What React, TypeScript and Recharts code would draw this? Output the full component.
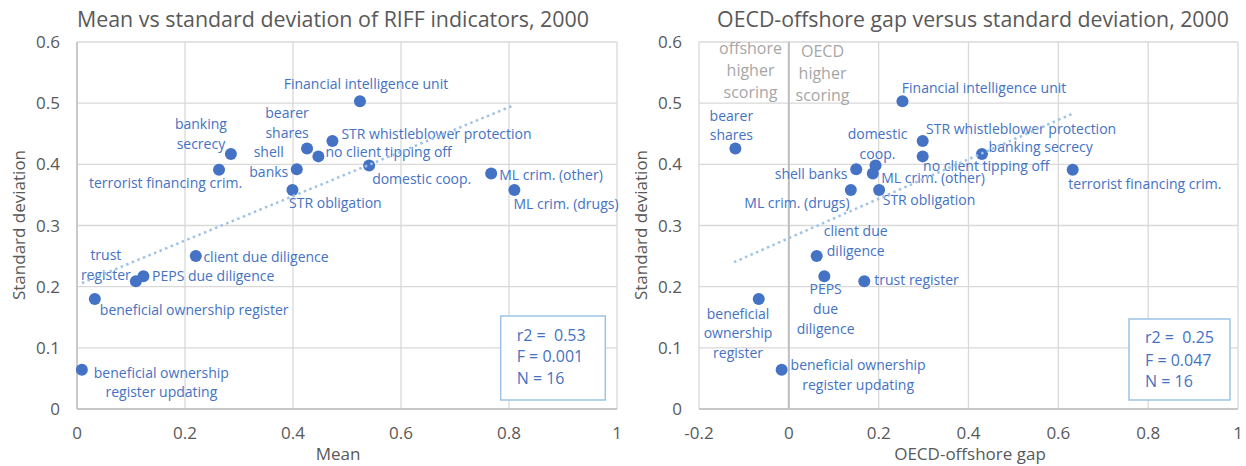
import React from 'react';
import { ScatterChart, Scatter, XAxis, YAxis, CartesianGrid, ReferenceLine } from 'recharts';

// RIFF indicators, 2000
const indicators = [
  'Financial intelligence unit',
  'STR whistleblower protection',
  'bearer shares',
  'banking secrecy',
  'no client tipping off',
  'domestic coop.',
  'shell banks',
  'terrorist financing crim.',
  'ML crim. (other)',
  'STR obligation',
  'ML crim. (drugs)',
  'client due diligence',
  'PEPS due diligence',
  'trust register',
  'beneficial ownership register',
  'beneficial ownership register updating',
];
const meanScore = [0.524, 0.473, 0.426, 0.285, 0.447, 0.541, 0.407, 0.263, 0.767, 0.399, 0.81, 0.22, 0.123, 0.109, 0.033, 0.009];
const offshoreGap = [0.253, 0.298, -0.119, 0.43, 0.298, 0.193, 0.15, 0.632, 0.187, 0.201, 0.138, 0.062, 0.079, 0.168, -0.067, -0.016];
const stdDev = [0.503, 0.438, 0.426, 0.417, 0.413, 0.398, 0.392, 0.391, 0.385, 0.358, 0.358, 0.25, 0.217, 0.209, 0.18, 0.064];

// linear trendline ends
const meanTrendX = [0.009, 0.81];
const meanTrendY = [0.206, 0.497];
const gapTrendX = [-0.122, 0.632];
const gapTrendY = [0.24, 0.483];

const meanTicks = [0, 0.2, 0.4, 0.6, 0.8, 1];
const gapTicks = [-0.2, 0, 0.2, 0.4, 0.6, 0.8, 1];
const sdTicks = [0, 0.1, 0.2, 0.3, 0.4, 0.5, 0.6];

const meanPoints = indicators.map((name, i) => ({ name, x: meanScore[i], y: stdDev[i] }));
const gapPoints = indicators.map((name, i) => ({ name, x: offshoreGap[i], y: stdDev[i] }));
const meanTrend = meanTrendX.map((x, i) => ({ x, y: meanTrendY[i] }));
const gapTrend = gapTrendX.map((x, i) => ({ x, y: gapTrendY[i] }));

const BLUE = '#4472C4';
const TREND = '#9DC3E6';
const GRID = '#D9D9D9';
const AXIS = '#BFBFBF';
const TEXT = '#595959';
const FONT = '"Open Sans", sans-serif';
const LINE_GAP = 19.7;

type Spot = { lines: string[]; dx: number; dy: number; anchor: 'start' | 'middle' | 'end' };

// where each data label sits relative to its dot
const meanLabels: Record<string, Spot> = {
  'Financial intelligence unit': { lines: ['Financial intelligence unit'], dx: 6, dy: -18, anchor: 'middle' },
  'STR whistleblower protection': { lines: ['STR whistleblower protection'], dx: 9, dy: -8, anchor: 'start' },
  'bearer shares': { lines: ['bearer', 'shares'], dx: -20, dy: -36, anchor: 'middle' },
  'banking secrecy': { lines: ['banking', 'secrecy'], dx: -30, dy: -31, anchor: 'middle' },
  'no client tipping off': { lines: ['no client tipping off'], dx: 7, dy: -5.6, anchor: 'start' },
  'domestic coop.': { lines: ['domestic coop.'], dx: 3, dy: 12, anchor: 'start' },
  'shell banks': { lines: ['shell', 'banks'], dx: -28, dy: -18, anchor: 'middle' },
  'terrorist financing crim.': { lines: ['terrorist financing crim.'], dx: -53.5, dy: 12.4, anchor: 'middle' },
  'ML crim. (other)': { lines: ['ML crim. (other)'], dx: 8, dy: 0, anchor: 'start' },
  'STR obligation': { lines: ['STR obligation'], dx: -3.4, dy: 12, anchor: 'start' },
  'ML crim. (drugs)': { lines: ['ML crim. (drugs)'], dx: -1, dy: 13.3, anchor: 'start' },
  'client due diligence': { lines: ['client due diligence'], dx: 7.6, dy: 0, anchor: 'start' },
  'PEPS due diligence': { lines: ['PEPS due diligence'], dx: 8.6, dy: -1, anchor: 'start' },
  'trust register': { lines: ['trust', 'register'], dx: -30, dy: -27, anchor: 'middle' },
  'beneficial ownership register': { lines: ['beneficial ownership register'], dx: 5, dy: 9.6, anchor: 'start' },
  'beneficial ownership register updating': { lines: ['beneficial ownership', 'register updating'], dx: 79.5, dy: 1.7, anchor: 'middle' },
};

const gapLabels: Record<string, Spot> = {
  'Financial intelligence unit': { lines: ['Financial intelligence unit'], dx: -0.6, dy: -14.7, anchor: 'start' },
  'STR whistleblower protection': { lines: ['STR whistleblower protection'], dx: 3.4, dy: -13.3, anchor: 'start' },
  'bearer shares': { lines: ['bearer', 'shares'], dx: -4, dy: -33.7, anchor: 'middle' },
  'banking secrecy': { lines: ['banking secrecy'], dx: 6.6, dy: -8, anchor: 'start' },
  'no client tipping off': { lines: ['no client tipping off'], dx: 0.4, dy: 8.7, anchor: 'start' },
  'domestic coop.': { lines: ['domestic', 'coop.'], dx: 2, dy: -32.3, anchor: 'middle' },
  'shell banks': { lines: ['shell banks'], dx: -8.7, dy: 3.3, anchor: 'end' },
  'terrorist financing crim.': { lines: ['terrorist financing crim.'], dx: -4.4, dy: 13, anchor: 'start' },
  'ML crim. (other)': { lines: ['ML crim. (other)'], dx: 8.4, dy: 3, anchor: 'start' },
  'STR obligation': { lines: ['STR obligation'], dx: 3.6, dy: 9.3, anchor: 'start' },
  'ML crim. (drugs)': { lines: ['ML crim. (drugs)'], dx: -1.3, dy: 12, anchor: 'end' },
  'client due diligence': { lines: ['client due', 'diligence'], dx: 39, dy: -25.7, anchor: 'middle' },
  'PEPS due diligence': { lines: ['PEPS', 'due', 'diligence'], dx: 1.3, dy: 12, anchor: 'middle' },
  'trust register': { lines: ['trust register'], dx: 10, dy: -2.3, anchor: 'start' },
  'beneficial ownership register': { lines: ['beneficial', 'ownership', 'register'], dx: -20.7, dy: 13.7, anchor: 'middle' },
  'beneficial ownership register updating': { lines: ['beneficial ownership', 'register updating'], dx: 76.5, dy: -5.7, anchor: 'middle' },
};

const labelledDot = (spots: Record<string, Spot>) => (props: any) => {
  const { cx, cy, payload } = props;
  const spot = spots[payload.name];
  return (
    <g>
      <circle cx={cx} cy={cy} r={6} fill={BLUE} />
      {spot && (
        <text fill={BLUE} fontSize={14} textAnchor={spot.anchor} dominantBaseline="central">
          {spot.lines.map((line, i) => (
            <tspan key={i} x={cx + spot.dx} y={cy + spot.dy + i * LINE_GAP}>{line}</tspan>
          ))}
        </text>
      )}
    </g>
  );
};

const noDot = () => <g />;

const tickStyle = { fill: TEXT, fontSize: 17 };

function Panel(props: {
  left: number;
  width: number;
  rightMargin: number;
  points: { name: string; x: number; y: number }[];
  trend: { x: number; y: number }[];
  xTicks: number[];
  xDomain: [number, number];
  spots: Record<string, Spot>;
  zeroLine?: boolean;
}) {
  const { left, width, rightMargin, points, trend, xTicks, xDomain, spots, zeroLine } = props;
  return (
    <div style={{ position: 'absolute', left, top: 0 }}>
      <ScatterChart
        width={width}
        height={466}
        margin={{ top: 42, right: rightMargin, bottom: 27, left: 17 }}
        style={{ overflow: 'visible' }}
      >
        <CartesianGrid stroke={GRID} strokeWidth={1.3} />
        <XAxis
          type="number"
          dataKey="x"
          domain={xDomain}
          ticks={xTicks}
          interval={0}
          height={30}
          tick={tickStyle}
          tickLine={false}
          tickMargin={12}
          axisLine={{ stroke: AXIS, strokeWidth: 1.5 }}
        />
        <YAxis
          type="number"
          dataKey="y"
          domain={[0, 0.6]}
          ticks={sdTicks}
          interval={0}
          width={60}
          tick={tickStyle}
          tickLine={false}
          tickMargin={11}
          axisLine={zeroLine ? false : { stroke: AXIS, strokeWidth: 1.5 }}
        />
        {zeroLine && <ReferenceLine x={0} stroke={AXIS} strokeWidth={2} />}
        <Scatter data={points} shape={labelledDot(spots)} isAnimationActive={false} />
        <Scatter
          data={trend}
          shape={noDot}
          line={{ stroke: TREND, strokeWidth: 2.5, strokeDasharray: '2.5 3.5' }}
          isAnimationActive={false}
        />
      </ScatterChart>
    </div>
  );
}

export default function App() {
  return (
    <div style={{ position: 'absolute', left: 0, top: 0, width: 1246, height: 466, background: '#fff', fontFamily: FONT }}>
      <Panel
        left={0}
        width={622}
        rightMargin={5}
        points={meanPoints}
        trend={meanTrend}
        xTicks={meanTicks}
        xDomain={[0, 1]}
        spots={meanLabels}
      />
      <Panel
        left={622}
        width={624}
        rightMargin={8}
        points={gapPoints}
        trend={gapTrend}
        xTicks={gapTicks}
        xDomain={[-0.2, 1]}
        spots={gapLabels}
        zeroLine
      />
      <svg width={1246} height={466} style={{ position: 'absolute', left: 0, top: 0, pointerEvents: 'none' }}>
        <text x={333} y={27} fontSize={21.4} fill={TEXT} textAnchor="middle">Mean vs standard deviation of RIFF indicators, 2000</text>
        <text x={973} y={27} fontSize={21.3} fill={TEXT} textAnchor="middle">OECD-offshore gap versus standard deviation, 2000</text>

        <text x={338} y={459.5} fontSize={17} fill={TEXT} textAnchor="middle">Mean</text>
        <text x={970} y={459.5} fontSize={17} fill={TEXT} textAnchor="middle">OECD-offshore gap</text>
        <text transform="translate(25,225) rotate(-90)" fontSize={17} fill={TEXT} textAnchor="middle">Standard deviation</text>
        <text transform="translate(646.7,225) rotate(-90)" fontSize={17} fill={TEXT} textAnchor="middle">Standard deviation</text>

        <g fontSize={16} fill="#A6A6A6" textAnchor="middle">
          <text x={750.5} y={54.3}>offshore</text>
          <text x={750.5} y={76}>higher</text>
          <text x={750.5} y={97.7}>scoring</text>
          <text x={822.5} y={57.3}>OECD</text>
          <text x={822.5} y={79}>higher</text>
          <text x={822.5} y={100.7}>scoring</text>
        </g>

        <rect x={500.7} y={316} width={104.6} height={84} fill="#fff" stroke={TREND} strokeWidth={1.5} />
        <g fontSize={16} fill={BLUE}>
          <text x={516.7} y={340.7}>{'r2 = \u00a00.53'}</text>
          <text x={516.7} y={362.4}>F = 0.001</text>
          <text x={516.7} y={384.4}>N = 16</text>
        </g>
        <rect x={1129} y={319} width={101} height={81} fill="#fff" stroke={TREND} strokeWidth={1.5} />
        <g fontSize={16} fill={BLUE}>
          <text x={1145} y={343.3}>{'r2 = \u00a00.25'}</text>
          <text x={1145} y={365.7}>F = 0.047</text>
          <text x={1145} y={387.3}>N = 16</text>
        </g>
      </svg>
    </div>
  );
}
